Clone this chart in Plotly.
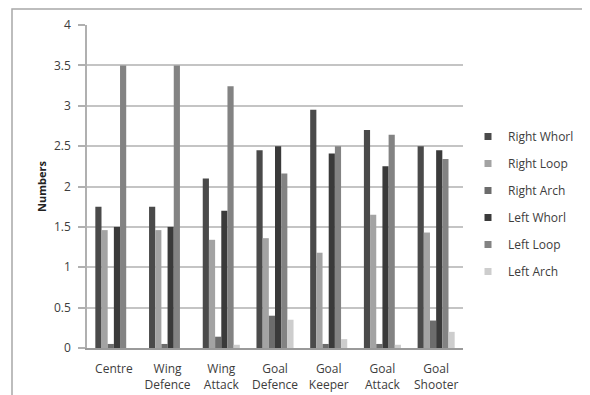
import plotly.graph_objects as go

categories = ["Centre", "Wing<br>Defence", "Wing<br>Attack", "Goal<br>Defence",
              "Goal<br>Keeper", "Goal<br>Attack", "Goal<br>Shooter"]
series_names = ["Right Whorl", "Right Loop", "Right Arch", "Left Whorl", "Left Loop", "Left Arch"]
right_whorl = [1.75, 1.75, 2.1, 2.45, 2.95, 2.7, 2.5]
right_loop = [1.46, 1.46, 1.34, 1.36, 1.18, 1.65, 1.43]
right_arch = [0.05, 0.05, 0.14, 0.4, 0.05, 0.05, 0.34]
left_whorl = [1.5, 1.5, 1.7, 2.5, 2.41, 2.25, 2.45]
left_loop = [3.5, 3.5, 3.24, 2.16, 2.5, 2.64, 2.34]
left_arch = [0.0, 0.0, 0.04, 0.35, 0.11, 0.04, 0.2]
y_ticks = [0, 0.5, 1, 1.5, 2, 2.5, 3, 3.5, 4]

values = [right_whorl, right_loop, right_arch, left_whorl, left_loop, left_arch]
colors = ["#4a4a4a", "#a3a3a3", "#6c6c6c", "#3a3a3a", "#838383", "#cdcdcd"]

FONT = "Open Sans"
TXT = "#3d3d3d"

fig = go.Figure()
for name, vals, col in zip(series_names, values, colors):
    fig.add_trace(go.Bar(x=categories, y=vals, name=name, marker=dict(color=col, line=dict(width=0)),
                         showlegend=False))
for i, (name, col) in enumerate(zip(series_names, colors)):
    fig.add_trace(go.Scatter(x=[None], y=[None], mode="markers", name=name, legendgroup=name,
                             marker=dict(symbol="square", size=7, color=col), showlegend=True))

# page has an 8px body margin; work in reference pixel coords and shift
OFF = 8
W, H = 590 - OFF, 395 - OFF
L, R, T, B = 87 - OFF, 463 - OFF, 25 - OFF, 348 - OFF
pw, ph = R - L, B - T

def px_x(x):
    return (x - OFF - L) / pw

def px_y(y):
    return (B - (y - OFF)) / ph

fig.update_layout(
    width=W, height=H,
    margin=dict(l=L, r=W - R, t=T, b=H - B, pad=0, autoexpand=False),
    paper_bgcolor="white", plot_bgcolor="white",
    font=dict(family=FONT, size=12, color=TXT),
    barmode="group", bargap=0.31, bargroupgap=0,
    legend=dict(x=px_x(468), y=px_y(204), xanchor="left", yanchor="middle",
                font=dict(family=FONT, size=12, color=TXT), tracegroupgap=8,
                itemwidth=30, bgcolor="rgba(0,0,0,0)"),
    xaxis=dict(showgrid=False, showline=True, linecolor="#9a9a9a", linewidth=1.5,
               ticks="", tickfont=dict(size=12, color=TXT), ticklabelstandoff=9),
    yaxis=dict(range=[0, 4], tickvals=y_ticks, ticktext=[f"{v:g}" for v in y_ticks],
               showgrid=True, gridcolor="#c4c4c4", gridwidth=1.5,
               showline=True, linecolor="#b0b0b0", linewidth=1.5,
               ticks="outside", ticklen=7, tickcolor="#b0b0b0", tickwidth=1.5,
               tickfont=dict(size=12, color=TXT), zeroline=False, ticklabelstandoff=5,
               title=dict(text="<b>Numbers</b>", font=dict(size=11, color="#222222"), standoff=5)),
    shapes=[dict(type="rect", xref="paper", yref="paper",
                 x0=px_x(12), x1=px_x(587), y0=px_y(420), y1=px_y(9),
                 line=dict(color="#a8a8a8", width=1.5), fillcolor="rgba(0,0,0,0)", layer="below")],
)

fig.write_html("out.html")
